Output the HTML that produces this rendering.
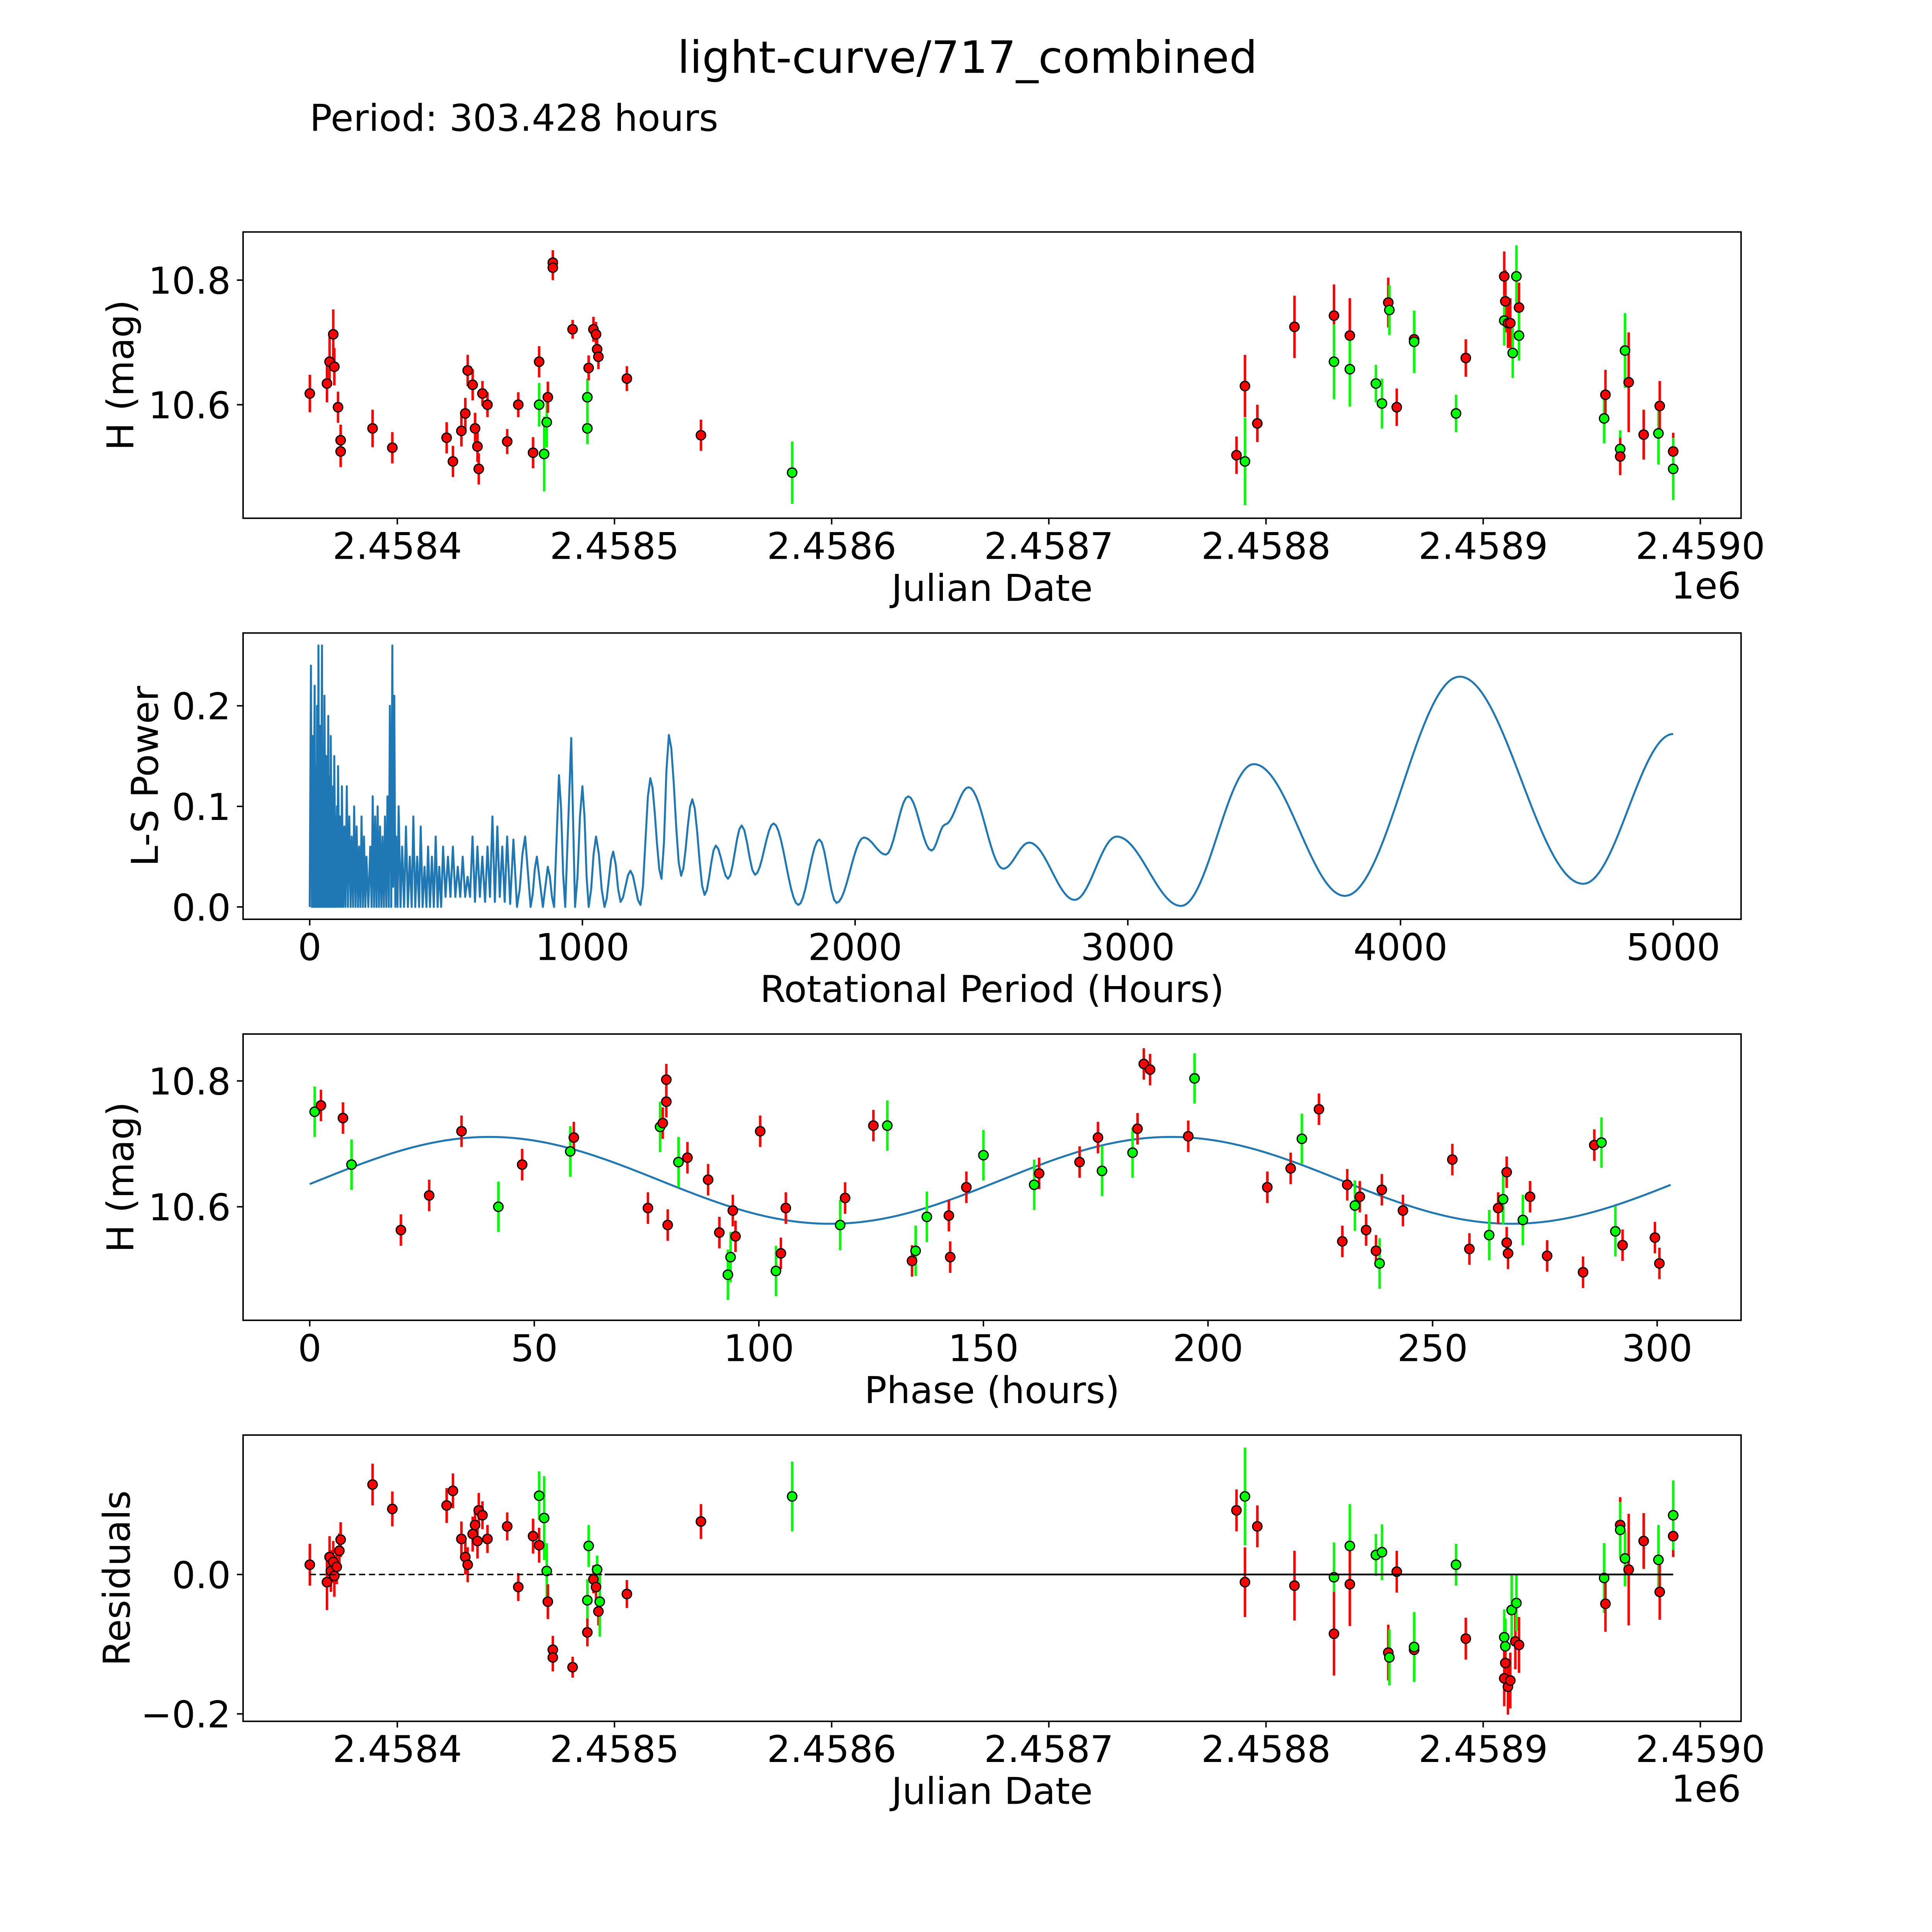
<!DOCTYPE html>
<html><head><meta charset="utf-8"><style>
html,body{margin:0;padding:0;background:#fff;overflow:hidden;width:5400px;height:5400px}
svg{display:block}
text{font-family:"DejaVu Sans","Liberation Sans",sans-serif;fill:#000}
</style></head><body>
<svg id="fig" xmlns="http://www.w3.org/2000/svg" width="5400" height="5400" viewBox="0 0 1691 1691">
<rect x="0" y="0" width="1691" height="1691" fill="#fff"/>
<text x="784" y="59" font-size="36" text-anchor="middle">light-curve/717_combined</text>
<text x="251" y="106" font-size="30">Period: 303.428 hours</text>
<g id="p1"></g>
<g id="p2"></g>
<g id="p3"></g>
<g id="p4"></g>
</svg>
<script>
// Light curve: days since JD 2458000, magnitude, error, filter (1=green,0=red)
const lcDays=[359.7,367.6,368.8,370.5,371.0,372.7,373.9,373.9,388.6,397.7,422.7,425.6,429.5,431.3,432.4,434.7,435.8,436.9,437.5,439.2,441.5,450.6,455.7,462.5,465.3,465.3,467.6,468.8,469.3,471.6,471.6,480.7,487.5,488.1,487.5,490.3,491.5,492.0,492.6,505.7,539.8,581.8,786.4,790.3,790.3,796.0,813.1,831.3,831.3,838.6,838.6,850.6,853.4,856.3,856.8,860.2,868.2,868.2,887.5,892.0,909.7,910.2,909.7,911.4,912.5,913.6,915.3,916.5,916.5,955.7,956.3,963.1,963.1,965.3,967.0,973.9,980.7,981.3,987.5,987.5];
const lcMag=[10.618,10.634,10.669,10.713,10.661,10.596,10.543,10.525,10.562,10.531,10.547,10.509,10.558,10.586,10.655,10.632,10.562,10.533,10.497,10.618,10.600,10.541,10.600,10.523,10.669,10.600,10.521,10.572,10.612,10.828,10.820,10.721,10.612,10.659,10.562,10.721,10.713,10.689,10.677,10.642,10.551,10.491,10.519,10.630,10.509,10.570,10.725,10.743,10.669,10.711,10.657,10.634,10.602,10.764,10.752,10.596,10.705,10.701,10.586,10.675,10.806,10.766,10.735,10.731,10.731,10.683,10.806,10.756,10.711,10.578,10.616,10.529,10.517,10.687,10.636,10.552,10.554,10.598,10.525,10.497];
const lcErr=[0.03,0.03,0.04,0.04,0.03,0.025,0.025,0.025,0.03,0.025,0.025,0.025,0.025,0.025,0.025,0.025,0.025,0.025,0.025,0.02,0.02,0.02,0.02,0.025,0.025,0.035,0.06,0.04,0.025,0.02,0.02,0.015,0.03,0.02,0.025,0.02,0.02,0.02,0.02,0.02,0.025,0.05,0.03,0.05,0.07,0.03,0.05,0.05,0.06,0.06,0.06,0.03,0.04,0.04,0.04,0.03,0.03,0.05,0.03,0.03,0.04,0.05,0.04,0.04,0.04,0.04,0.05,0.04,0.04,0.04,0.04,0.03,0.03,0.06,0.08,0.04,0.05,0.04,0.03,0.05];
const lcGreen=[0,0,0,0,0,0,0,0,0,0,0,0,0,0,0,0,0,0,0,0,0,0,0,0,0,1,1,1,0,0,0,0,1,0,1,0,0,0,0,0,0,1,0,0,1,0,0,0,1,0,1,1,1,0,1,0,0,1,1,0,0,0,1,0,0,1,1,0,1,1,0,1,0,1,0,0,1,0,0,1];
// Residuals
const resDays=[359.7,367.6,368.8,369.4,370.5,371.0,372.1,373.3,373.9,388.6,397.7,422.7,425.6,429.5,431.3,432.4,434.7,435.8,436.9,437.5,439.2,441.5,450.6,455.7,462.5,465.3,465.3,467.6,468.8,469.3,471.6,471.6,480.7,487.5,488.1,487.5,490.3,491.5,492.0,492.6,493.2,505.7,539.8,581.8,786.4,790.3,790.3,796.0,813.1,831.3,831.3,838.6,838.6,850.6,853.4,856.3,856.8,860.2,868.2,868.2,887.5,892.0,909.7,910.2,909.7,910.2,911.4,912.5,913.1,914.8,915.3,916.5,955.7,956.3,963.1,963.1,965.3,967.0,973.9,980.7,981.3,987.5,987.5];
const resVal=[0.014,-0.011,0.025,0.005,0.018,-0.002,0.011,0.034,0.050,0.129,0.094,0.099,0.120,0.051,0.025,0.014,0.058,0.071,0.048,0.092,0.085,0.051,0.069,-0.018,0.055,0.113,0.042,0.081,0.005,-0.039,-0.108,-0.119,-0.133,-0.037,0.041,-0.083,-0.007,-0.018,0.007,-0.053,-0.039,-0.028,0.076,0.112,0.092,-0.011,0.112,0.069,-0.016,-0.004,-0.085,0.041,-0.014,0.028,0.032,-0.112,-0.119,0.004,-0.108,-0.104,0.014,-0.092,-0.090,-0.103,-0.149,-0.127,-0.161,-0.152,-0.051,-0.096,-0.041,-0.101,-0.005,-0.042,0.071,0.064,0.023,0.007,0.048,0.021,-0.025,0.055,0.085];
const resErr=[0.03,0.04,0.03,0.03,0.03,0.03,0.025,0.025,0.025,0.03,0.025,0.025,0.025,0.025,0.025,0.025,0.025,0.025,0.025,0.025,0.02,0.02,0.02,0.02,0.025,0.035,0.025,0.06,0.04,0.025,0.02,0.02,0.015,0.03,0.03,0.02,0.02,0.02,0.02,0.02,0.05,0.02,0.025,0.05,0.03,0.05,0.07,0.03,0.05,0.05,0.06,0.06,0.06,0.03,0.04,0.04,0.04,0.03,0.03,0.05,0.03,0.03,0.04,0.04,0.04,0.04,0.04,0.04,0.05,0.04,0.04,0.04,0.05,0.04,0.04,0.04,0.04,0.08,0.04,0.05,0.04,0.03,0.05];
const resGreen=[0,0,0,0,0,0,0,0,0,0,0,0,0,0,0,0,0,0,0,0,0,0,0,0,0,1,0,1,1,0,0,0,0,1,1,0,0,0,1,0,1,0,0,1,0,0,1,0,0,1,0,1,0,1,1,0,1,0,0,1,1,0,1,1,0,0,0,0,1,0,1,0,1,0,0,1,1,0,0,1,0,0,1];
// Phase-folded
const phHours=[1.1,2.5,7.4,9.3,20.3,26.6,33.8,42.0,47.3,58.0,58.8,75.3,78.0,78.6,79.4,79.4,79.7,82.1,84.1,88.7,91.2,93.1,93.7,94.2,94.8,100.3,103.8,104.9,106.0,118.1,119.2,125.5,128.6,134.1,134.9,137.4,142.3,142.6,146.2,150.0,161.3,162.4,171.4,175.5,176.4,183.2,184.3,185.7,187.1,195.6,197.0,213.2,218.4,220.9,224.7,229.9,231.0,232.7,233.8,235.2,237.4,238.2,238.7,243.4,254.4,258.2,262.6,264.6,265.7,266.5,266.5,266.8,270.1,271.7,275.5,283.5,286.0,287.6,290.7,292.3,299.5,300.5];
const phMag=[10.751,10.761,10.741,10.667,10.563,10.618,10.720,10.600,10.667,10.688,10.710,10.598,10.727,10.733,10.767,10.802,10.571,10.671,10.678,10.643,10.559,10.492,10.520,10.594,10.553,10.720,10.498,10.526,10.598,10.571,10.614,10.729,10.729,10.514,10.530,10.584,10.586,10.520,10.631,10.682,10.635,10.653,10.671,10.710,10.657,10.686,10.724,10.827,10.818,10.712,10.804,10.631,10.661,10.708,10.755,10.545,10.635,10.602,10.616,10.563,10.530,10.510,10.627,10.594,10.675,10.533,10.555,10.598,10.612,10.655,10.543,10.526,10.579,10.616,10.522,10.496,10.698,10.702,10.561,10.539,10.551,10.510];
const phGreen=[1,0,0,1,0,0,0,1,0,1,0,0,1,0,0,0,0,1,0,0,0,1,1,0,0,0,1,0,0,1,0,0,1,0,1,1,0,0,0,1,1,0,0,0,1,1,0,0,0,0,1,0,0,1,0,0,0,1,0,0,0,1,0,0,0,0,1,0,1,0,0,0,1,0,0,0,0,1,1,0,0,0];
// Fit model: mean, amplitude, phase of maximum (hours), period (hours)
const modelParams=[10.642,0.069,40,303.428];
// Periodogram: dense spikes then smooth extrema
const lsPeriod=[0,4.5,8,11,14,18,20,23,25,27,30,32,35,38,41,45,48,50,52,54,58,61,65,68,70,72,75,77,82,86,88,90,95,100,102,104,109,113,116,118,123,127,131,136,140,145,150,154,159,163,168,172,177,181,186,190,195,199,204,208,215,222,227,231,236,240,245,249,254,258,263,267,272,276,281,285,290,294,299,303,306,310,314,317,322,326,333,339,346,353,360,367,374,380,387,394,401,407,414,421,428,434,441,448,455,462,469,475,482,489,498,507,516,525,534,543,552,561,570,579,588,597,606,615,624,633,643,652,661,670,679,688,697,706,715,724,735,747,760,790,810,833,855,873,896,914,937,959,973,1000,1023,1050,1081,1113,1140,1176,1213,1249,1290,1317,1362,1403,1448,1489,1534,1584,1633,1701,1792,1869,1932,2032,2113,2195,2280,2330,2416,2543,2638,2805,2959,3195,3462,3796,4217,4670,5000];
const lsPower=[0,0.24,0,0.17,0,0.22,0,0.14,0,0.2,0,0.26,0,0.18,0,0.26,0,0.16,0,0.21,0,0.15,0,0.19,0,0.13,0,0.17,0,0.12,0,0.15,0,0.1,0,0.14,0,0.09,0,0.12,0,0.08,0,0.12,0,0.09,0,0.07,0,0.1,0,0.08,0,0.06,0,0.09,0,0.07,0,0.05,0,0.06,0,0.11,0,0.09,0,0.1,0,0.08,0,0.07,0,0.09,0,0.11,0,0.2,0,0.26,0.02,0.21,0,0.07,0,0.1,0,0.06,0,0.08,0,0.05,0,0.09,0,0.05,0,0.08,0,0.04,0,0.06,0,0.05,0,0.07,0,0.04,0,0.06,0.01,0.05,0.01,0.06,0.01,0.04,0.01,0.05,0.01,0.03,0.01,0.07,0.005,0.06,0.01,0.05,0.005,0.06,0.01,0.09,0.005,0.08,0.01,0.06,0.005,0.07,0.003,0.067,0.0,0.07,0.0,0.05,0.0,0.04,0.0,0.131,0.0,0.168,0.0,0.12,0.0,0.07,0.0,0.055,0.005,0.036,0.002,0.128,0.028,0.171,0.031,0.107,0.012,0.061,0.028,0.081,0.032,0.083,0.002,0.067,0.004,0.069,0.052,0.110,0.056,0.082,0.119,0.038,0.064,0.007,0.070,0.001,0.142,0.011,0.229,0.023,0.172];
const lightTicks=[2458400,2458500,2458600,2458700,2458800,2458900,2459000];
const lightTickLabels=["2.4584","2.4585","2.4586","2.4587","2.4588","2.4589","2.4590"];
const magTicks=[10.6,10.8];
const lsXTicks=[0,1000,2000,3000,4000,5000];
const lsYTicks=[0,0.1,0.2];
const phXTicks=[0,50,100,150,200,250,300];
const resYTicks=[-0.2,0];

const NS='http://www.w3.org/2000/svg';
const FS=30;
function mk(parent,tag,attrs){const e=document.createElementNS(NS,tag);for(const k in attrs)e.setAttribute(k,attrs[k]);parent.appendChild(e);return e;}
function lin(d0,d1,r0,r1){return v=>r0+(v-d0)*(r1-r0)/(d1-d0);}
const L=197,R=1411;
function frame(g,top,bot){
  const f=mk(g,'rect',{x:L,y:top,width:R-L,height:bot-top,fill:'none',stroke:'#000','stroke-width':1.2});
  
  
}
function xticks(g,ticks,labels,sx,bot,name){
  ticks.forEach((t,i)=>{
    const x=sx(t);
    const tl=mk(g,'line',{x1:x,x2:x,y1:bot,y2:bot+5,stroke:'#000','stroke-width':1.2});
    
    
    const tx=mk(g,'text',{x:x,y:bot+33,'font-size':FS,'text-anchor':'middle'});
    tx.textContent=labels[i];
    
    
  });
}
function yticks(g,ticks,labels,sy,name){
  ticks.forEach((t,i)=>{
    const y=sy(t);
    const tl=mk(g,'line',{x1:L-5,x2:L,y1:y,y2:y,stroke:'#000','stroke-width':1.2});
    
    
    const tx=mk(g,'text',{x:L-10,y:y+11,'font-size':FS,'text-anchor':'end'});
    tx.textContent=labels[i];
    
    
  });
}
function label(g,txt,x,y,rot,name){
  const t=mk(g,'text',{x:x,y:y,'font-size':FS,'text-anchor':'middle'});
  if(rot)t.setAttribute('transform','rotate(-90 '+x+' '+y+')');
  t.textContent=txt;
  
  
}
function points(g,xs,ys,es,gr,sx,sy,name){
  xs.forEach((v,i)=>{
    const c=gr[i]?'#00ff00':'#ff0000';
    const x=sx(v);
    const eb=mk(g,'line',{x1:x,x2:x,y1:sy(ys[i]-es[i]),y2:sy(ys[i]+es[i]),stroke:c,'stroke-width':2});
    
    
  });
  xs.forEach((v,i)=>{
    const c=gr[i]?'#00ff00':'#ff0000';
    const m=mk(g,'circle',{cx:sx(v),cy:sy(ys[i]),r:3.8,fill:c,stroke:'#000','stroke-width':1});
    
    
  });
}
// Panel 1
(function(){
  const g=document.getElementById('p1');const top=188,bot=420;
  const sx=lin(2458400,2459000,322,1378), sy=lin(10.6,10.8,328,227);
  points(g,lcDays.map(d=>d+2458000),lcMag,lcErr,lcGreen,sx,sy,'light-curve');
  frame(g,top,bot);
  xticks(g,lightTicks,lightTickLabels,sx,bot,'x-axis');
  yticks(g,magTicks,magTicks.map(v=>v.toFixed(1)),sy,'y-axis');
  label(g,'Julian Date',804,487,false,'x-axis-title');
  const o=mk(g,'text',{x:R,y:485,'font-size':FS,'text-anchor':'end'});o.textContent='1e6';
  
  
  label(g,'H (mag)',108,304,true,'y-axis-title');
})();
// Panel 2
(function(){
  const g=document.getElementById('p2');const top=513,bot=745;
  const sx=lin(0,5000,251,1356), sy=lin(0,0.2,735,572);
  let d='M'+sx(lsPeriod[0])+' '+sy(lsPower[0]);
  for(let i=1;i<lsPeriod.length;i++){
    const x0=lsPeriod[i-1],x1=lsPeriod[i],y0=lsPower[i-1],y1=lsPower[i];
    const n=Math.max(1,Math.round((sx(x1)-sx(x0))/2));
    for(let k=1;k<=n;k++){const f=k/n;const w=(1-Math.cos(Math.PI*f))/2;d+=' L'+sx(x0+(x1-x0)*f).toFixed(2)+' '+sy(y0+(y1-y0)*w).toFixed(2);}
  }
  const p=mk(g,'path',{d:d,fill:'none',stroke:'#1f77b4','stroke-width':1.6,'stroke-linejoin':'round'});
  
  
  frame(g,top,bot);
  xticks(g,lsXTicks,lsXTicks.map(String),sx,bot,'x-axis');
  yticks(g,lsYTicks,lsYTicks.map(v=>v.toFixed(1)),sy,'y-axis');
  label(g,'Rotational Period (Hours)',804,812,false,'x-axis-title');
  label(g,'L-S Power',128,629,true,'y-axis-title');
})();
// Panel 3
(function(){
  const g=document.getElementById('p3');const top=838,bot=1070;
  const sx=lin(0,300,251,1343), sy=lin(10.6,10.8,978,876);
  let d='';
  for(let h=0;h<=modelParams[3];h+=1){
    const v=modelParams[0]+modelParams[1]*Math.cos(4*Math.PI*(h-modelParams[2])/modelParams[3]);
    d+=(d?' L':'M')+sx(h).toFixed(2)+' '+sy(v).toFixed(2);
  }
  const p=mk(g,'path',{d:d,fill:'none',stroke:'#1f77b4','stroke-width':1.6});
  
  
  points(g,phHours,phMag,phMag.map((v,i)=>phGreen[i]?0.04:0.025),phGreen,sx,sy,'phase');
  frame(g,top,bot);
  xticks(g,phXTicks,phXTicks.map(String),sx,bot,'x-axis');
  yticks(g,magTicks,magTicks.map(v=>v.toFixed(1)),sy,'y-axis');
  label(g,'Phase (hours)',804,1137,false,'x-axis-title');
  label(g,'H (mag)',108,954,true,'y-axis-title');
})();
// Panel 4
(function(){
  const g=document.getElementById('p4');const top=1163,bot=1395;
  const sx=lin(2458400,2459000,322,1378), sy=lin(0,-0.2,1276,1389);
  points(g,resDays.map(d=>d+2458000),resVal,resErr,resGreen,sx,sy,'residual');
  const z1=mk(g,'line',{x1:251,x2:490,y1:sy(0),y2:sy(0),stroke:'#000','stroke-width':1.2,'stroke-dasharray':'5 3'});
  
  
  const z2=mk(g,'line',{x1:490,x2:1356,y1:sy(0),y2:sy(0),stroke:'#000','stroke-width':1.4});
  
  
  frame(g,top,bot);
  xticks(g,lightTicks,lightTickLabels,sx,bot,'x-axis');
  yticks(g,resYTicks,['\u22120.2','0.0'],sy,'y-axis');
  label(g,'Julian Date',804,1462,false,'x-axis-title');
  const o=mk(g,'text',{x:R,y:1460,'font-size':FS,'text-anchor':'end'});o.textContent='1e6';
  
  
  label(g,'Residuals',105,1279,true,'y-axis-title');
})();
</script>
</body></html>
